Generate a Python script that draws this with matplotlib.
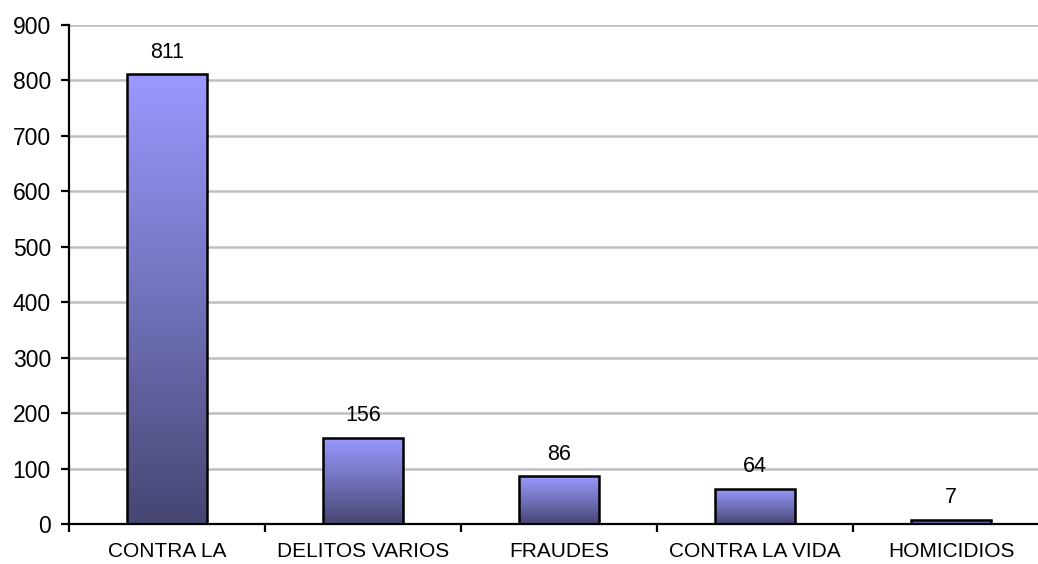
import numpy as np
import matplotlib
matplotlib.use('Agg')
import matplotlib.pyplot as plt
from matplotlib.colors import LinearSegmentedColormap

categories = ['CONTRA LA', 'DELITOS VARIOS', 'FRAUDES', 'CONTRA LA VIDA', 'HOMICIDIOS']
values = [811, 156, 86, 64, 7]
y_ticks = [0, 100, 200, 300, 400, 500, 600, 700, 800, 900]

plt.rcParams['font.family'] = ['Liberation Sans', 'DejaVu Sans']

fig = plt.figure(figsize=(10.38, 5.64), dpi=100)
ax = fig.add_axes([69 / 1038, 40 / 564, 980 / 1038, 499 / 564])

# gradient from light lavender at top to dark slate at bottom
cmap = LinearSegmentedColormap.from_list('bar', ['#464672', '#7272bc', '#9999ff'])
grad = np.linspace(0, 1, 256).reshape(-1, 1)

x = np.arange(len(categories))
bars = ax.bar(x, values, width=0.41, facecolor='none', edgecolor='black', linewidth=1.8, zorder=3)
for b in bars:
    x0, y0 = b.get_x(), b.get_y()
    w, h = b.get_width(), b.get_height()
    im = ax.imshow(grad, cmap=cmap, aspect='auto', origin='lower',
                   extent=[x0, x0 + w, y0, y0 + h], zorder=2)
    im.set_clip_path(b)

for xi, v in zip(x, values):
    ax.annotate(str(v), (xi, v), xytext=(0, 8.5), textcoords='offset points',
                ha='center', va='bottom', fontsize=15.5)

ax.set_xlim(-0.5, len(categories) - 0.5)
ax.set_ylim(0, 900)
ax.set_yticks(y_ticks)
ax.set_yticklabels([str(t) for t in y_ticks], fontsize=16.5)

ax.set_xticks(np.arange(len(categories) + 1) - 0.5)
ax.set_xticklabels([])
ax.set_xticks(x, minor=True)
ax.set_xticklabels(categories, minor=True, fontsize=15)
ax.tick_params(axis='x', which='major', length=6, width=1.6, direction='out')
ax.tick_params(axis='x', which='minor', length=0, pad=13)
ax.tick_params(axis='y', length=6, width=1.6, direction='out', pad=7)

ax.yaxis.grid(True, color='#c0c0c0', linewidth=1.8, zorder=0)
ax.set_axisbelow(True)
for s in ['top', 'right']:
    ax.spines[s].set_visible(False)
for s in ['left', 'bottom']:
    ax.spines[s].set_linewidth(1.6)

fig.savefig('out.png', dpi=100)
